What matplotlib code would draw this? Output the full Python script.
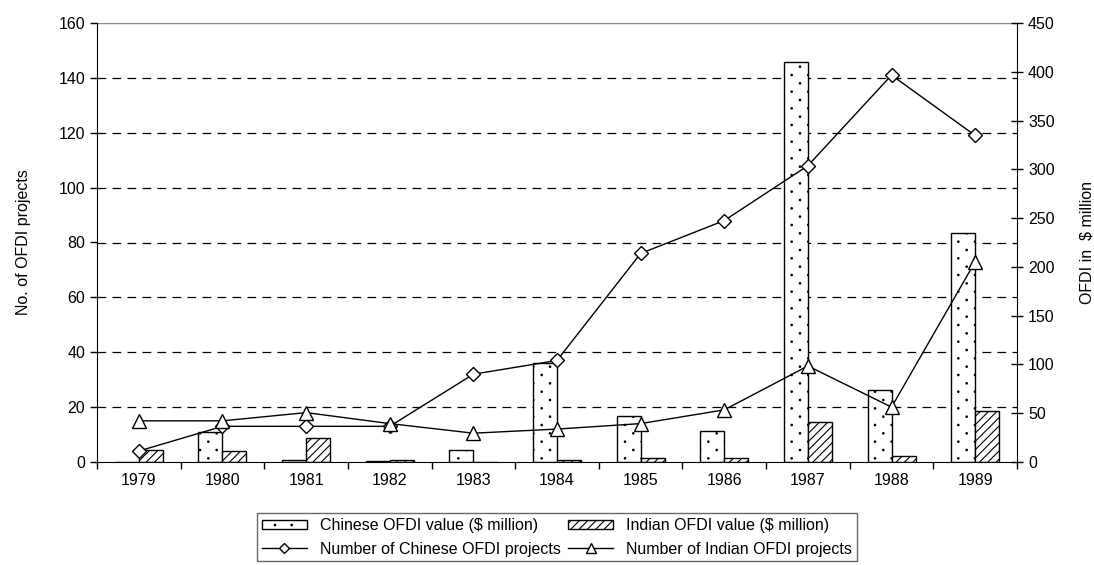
import matplotlib
matplotlib.use("Agg")
import matplotlib.pyplot as plt
import matplotlib.hatch
import numpy as np

plt.rcParams['font.family'] = ['Liberation Sans', 'DejaVu Sans']
plt.rcParams['hatch.linewidth'] = 0.8

# sparse staggered dot hatch (rows twice as dense vertically, tiny dots)
_SFC = matplotlib.hatch.SmallFilledCircles
_SFC.size = 0.045
_orig_init = _SFC.__init__


def _new_init(self, hatch, density):
    _orig_init(self, hatch, density)
    n = self.num_rows
    if n:
        self.num_shapes = (n + 1) ** 2 + n ** 2
        self.num_vertices = self.num_shapes * len(self.shape_vertices)


def _new_svc(self, vertices, codes):
    n = self.num_rows
    offset = 1.0 / n
    sv = self.shape_vertices * offset * self.size
    pv, pc = [], []
    for row in range(2 * n + 1):
        if row % 2 == 0:
            cols = np.linspace(0, 1, n + 1)
        else:
            cols = np.linspace(offset / 2, 1 - offset / 2, n)
        for c in cols:
            pv.append(sv + [c, row * offset / 2])
            pc.append(self.shape_codes)
    np.concatenate(pv, out=vertices)
    np.concatenate(pc, out=codes)


_SFC.__init__ = _new_init
_SFC.set_vertices_and_codes = _new_svc

years = ['1979', '1980', '1981', '1982', '1983', '1984', '1985', '1986', '1987', '1988', '1989']
chinese_value = [0, 31, 2.5, 1, 12, 101, 47, 32, 410, 74, 235]
indian_value = [12, 11, 24.5, 2.5, 0.5, 2.5, 3.7, 3.7, 41, 6.5, 52]
chinese_projects = [4, 13, 13, 13, 32, 37, 76, 88, 108, 141, 119]
indian_projects = [15, 15, 18, 14, 10.5, 12, 14, 19, 35, 20, 73]

left_ticks = [0, 20, 40, 60, 80, 100, 120, 140, 160]
right_ticks = [0, 50, 100, 150, 200, 250, 300, 350, 400, 450]

fig = plt.figure(figsize=(10.94, 5.65), dpi=100)
ax1 = fig.add_axes([97/1094, 1-462/565, 920/1094, 439/565])
ax2 = ax1.twinx()
ax1.set_zorder(ax2.get_zorder() + 1)
ax1.patch.set_visible(False)

x = np.arange(len(years))
w = 0.287
fs = 11.5

# gridlines (on bar axis, below bars)
scale = right_ticks[-1] / left_ticks[-1]
for t in left_ticks[1:-1]:
    ax2.axhline(t * scale, color='black', lw=0.9, ls=(0, (7, 5)), zorder=0)
ax2.axhline(left_ticks[-1] * scale, color='#888888', lw=1.0, zorder=0)

b1 = ax2.bar(x - w/2, chinese_value, w, facecolor='white', edgecolor='black',
             hatch='.', lw=1.0, zorder=2, label='Chinese OFDI value ($ million)')
b2 = ax2.bar(x + w/2, indian_value, w, facecolor='white', edgecolor='black',
             hatch='////', lw=1.0, zorder=2, label='Indian OFDI value ($ million)')

l1, = ax1.plot(x, chinese_projects, color='black', lw=1.0, marker='D', ms=7,
               mfc='white', mec='black', mew=1.0, label='Number of Chinese OFDI projects')
l2, = ax1.plot(x, indian_projects, color='black', lw=1.0, marker='^', ms=10,
               mfc='white', mec='black', mew=1.0, label='Number of Indian OFDI projects')

ax1.set_xlim(-0.5, len(years) - 0.5)
ax1.set_ylim(0, 160)
ax2.set_ylim(0, 450)
ax1.set_yticks(left_ticks)
ax2.set_yticks(right_ticks)
ax1.set_xticks(x)
ax1.set_xticklabels(years, fontsize=fs)
ax1.set_xticks(np.arange(-0.5, len(years)), minor=True)
ax1.tick_params(axis='x', which='major', length=0, pad=8)
ax1.tick_params(axis='x', which='minor', length=5, direction='out', width=1)
ax1.tick_params(axis='y', length=5, direction='out', labelsize=fs, width=1)
ax2.tick_params(axis='y', length=9, direction='inout', labelsize=fs, width=1)

for ax in (ax1, ax2):
    ax.spines['top'].set_visible(False)
ax2.spines['left'].set_visible(False)
ax2.spines['bottom'].set_visible(False)
ax1.spines['right'].set_visible(False)

ax1.set_ylabel('No. of OFDI projects', fontsize=fs, labelpad=20)
ax2.set_ylabel('OFDI in  \\$ million', fontsize=fs, labelpad=18)

handles = [b1, l1, b2, l2]
leg = fig.legend(handles, [h.get_label() for h in handles], loc='upper center',
                 bbox_to_anchor=(557/1094, 1-513/565), ncol=2, fontsize=fs,
                 frameon=True, fancybox=False, edgecolor='#444444', handlelength=2.8,
                 handleheight=0.5, handletextpad=0.8, columnspacing=0.5,
                 labelspacing=0.55, borderpad=0.3, borderaxespad=0, markerscale=0.7)
leg.get_frame().set_linewidth(1.0)

fig.savefig('out.png', dpi=100)
